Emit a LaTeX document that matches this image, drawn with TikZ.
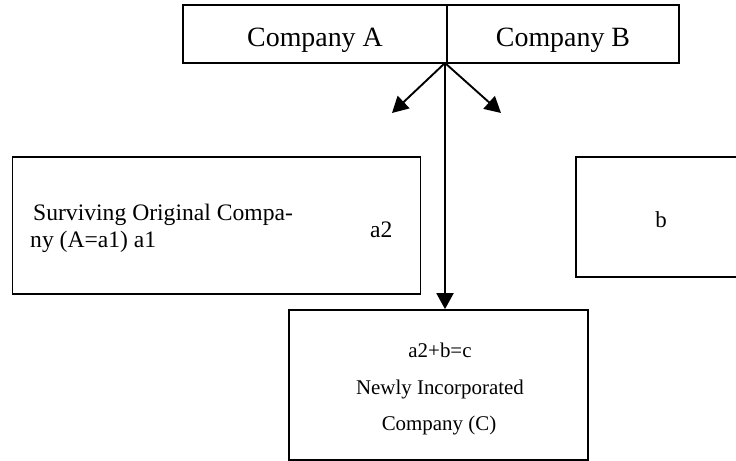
\documentclass[tikz,border=0pt]{standalone}
\usepackage{fontspec}
\setmainfont{Liberation Serif}
\usetikzlibrary{arrows.meta}
\tikzset{
  box/.style={draw, line width=1.7bp, inner sep=0pt, rectangle},
  lbl/.style={inner sep=0pt, anchor=base},
  conn/.style={line width=1.9bp, -{Triangle[length=16bp,width=17bp]}},
}
\begin{document}
\begin{tikzpicture}[x=1bp,y=-1bp]
\useasboundingbox (0,0) rectangle (736,461);
\clip (0,0) rectangle (736,461);
% boxes
\node[box, minimum width=264bp, minimum height=58bp] (A) at (315,34) {};
\node[box, minimum width=232bp, minimum height=58bp] (B) at (563,34) {};
\node[box, minimum width=408bp, minimum height=137bp] (S) at (216.5,225.5) {};
\node[box, minimum width=170bp, minimum height=120bp] (R) at (661,217) {};
\node[box, minimum width=299bp, minimum height=150bp] (C) at (438.5,385) {};
% texts
\node[lbl, font=\fontsize{28}{32}\selectfont] (tA) at (315,47) {Company A};
\node[lbl, font=\fontsize{28}{32}\selectfont] (tB) at (563,47) {Company B};
\node[lbl, anchor=base west, font=\fontsize{23.7}{26}\selectfont] (s1) at (33,221) {Surviving Original Compa-};
\node[lbl, anchor=base west, font=\fontsize{23.7}{26}\selectfont] (s2) at (30,248) {ny (A=a1) a1};
\node[lbl, anchor=base west, font=\fontsize{23.7}{26}\selectfont] (s3) at (370,238) {a2};
\node[lbl, font=\fontsize{23}{26}\selectfont] (tb) at (661,228) {b};
\node[lbl, font=\fontsize{21}{24}\selectfont] (c1) at (440,358) {a2+b=c};
\node[lbl, font=\fontsize{21}{24}\selectfont] (c2) at (440,394) {Newly Incorporated};
\node[lbl, font=\fontsize{21}{24}\selectfont] (c3) at (439,430) {Company (C)};
% connectors
\coordinate (o) at (445,63);
\coordinate (l) at (392,113);
\coordinate (r) at (501,113);
\draw[conn] (o) -- (l);
\draw[conn] (o) -- (r);
\draw[conn] (o) -- (o |- C.north);
\end{tikzpicture}
\end{document}
